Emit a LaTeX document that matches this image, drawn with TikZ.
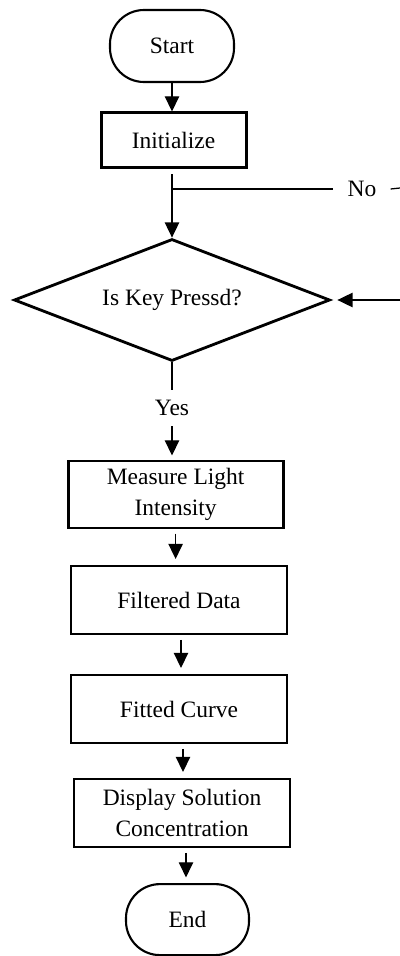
\documentclass[tikz,border=0pt]{standalone}
\usepackage{fontspec}
\setmainfont{Liberation Serif}
\usetikzlibrary{arrows.meta}
\usetikzlibrary{shapes.geometric}
\usetikzlibrary{calc}

\begin{document}
\begin{tikzpicture}[
    every node/.style={font=\fontsize{16.7}{22}\selectfont},
    term/.style={draw, line width=1.5pt, rounded corners=0.85cm, minimum width=3.1cm, minimum height=1.8cm},
    proc/.style={draw, line width=2pt, minimum width=5.4cm, minimum height=1.7cm, align=center},
    decide/.style={draw, diamond, aspect=2.59, line width=2pt, minimum width=7.9cm, minimum height=3.05cm, inner sep=0pt},
    arr/.style={-{Triangle[length=0.38cm, width=0.36cm]}, line width=0.9pt},
    link/.style={line width=0.9pt},
    gap/.style={shorten <=0.11cm, shorten >=0.14cm}
]
            \useasboundingbox (0,0) rectangle (10,-23.9);

            % Start and setup
            \node[term] (start) at (4.3,-1.15) {Start};
            \node[proc, minimum width=3.625cm, minimum height=1.375cm] (init) at (4.34,-3.51) {Initialize};
            \draw[arr] (start.south) -- (start.south |- init.north);

            % Key check
            \node[decide] (key) at (4.3,-7.5) {Is Key Pressd?};
            \draw[arr, shorten <=0.12cm] (init.south -| key.north) -- (key.north);

            % No branch
            \coordinate (nofork) at (key.north |- 0,-4.725);
            \node[inner xsep=0.35cm] (no) at (9.05,-4.725) {No};
            \coordinate (noend) at (10,-4.7);
            \coordinate (back) at (10,-7.5);
            \draw[link] (nofork) -- (no.west);
            \draw[link] (no.east) -- (noend);
            \draw[arr, shorten >=0.15cm] (back) -- (key.east);

            % Yes branch
            \node[minimum height=0.9cm, inner sep=0pt] (yes) at (4.3,-10.2) {Yes};
            \draw[link] (key.south) -- (yes.north);

            % Processing steps
            \node[proc, minimum width=5.375cm, minimum height=1.675cm] (measure) at (4.39,-12.36) {Measure Light\\Intensity};
            \draw[arr, shorten >=0.1cm] (yes.south) -- (yes.south |- measure.north);

            \node[proc] (filtered) at (4.475,-15.0) {Filtered Data};
            \draw[arr, gap] (measure.south) -- (measure.south |- filtered.north);

            \node[proc] (fitted) at (4.475,-17.725) {Fitted Curve};
            \draw[arr, gap] ($(filtered.south)+(0.05,0)$) -- ($(filtered.south |- fitted.north)+(0.05,0)$);

            \node[proc] (display) at (4.55,-20.325) {Display Solution\\Concentration};
            \draw[arr, gap] ($(fitted.south)+(0.1,0)$) -- ($(fitted.south |- display.north)+(0.1,0)$);

            % End
            \node[term, minimum width=3.075cm, minimum height=1.775cm] (end) at (4.6875,-22.99) {End};
            \draw[arr, gap] ($(display.south)+(0.1,0)$) -- ($(display.south |- end.north)+(0.1,0)$);
        \end{tikzpicture}
\end{document}
